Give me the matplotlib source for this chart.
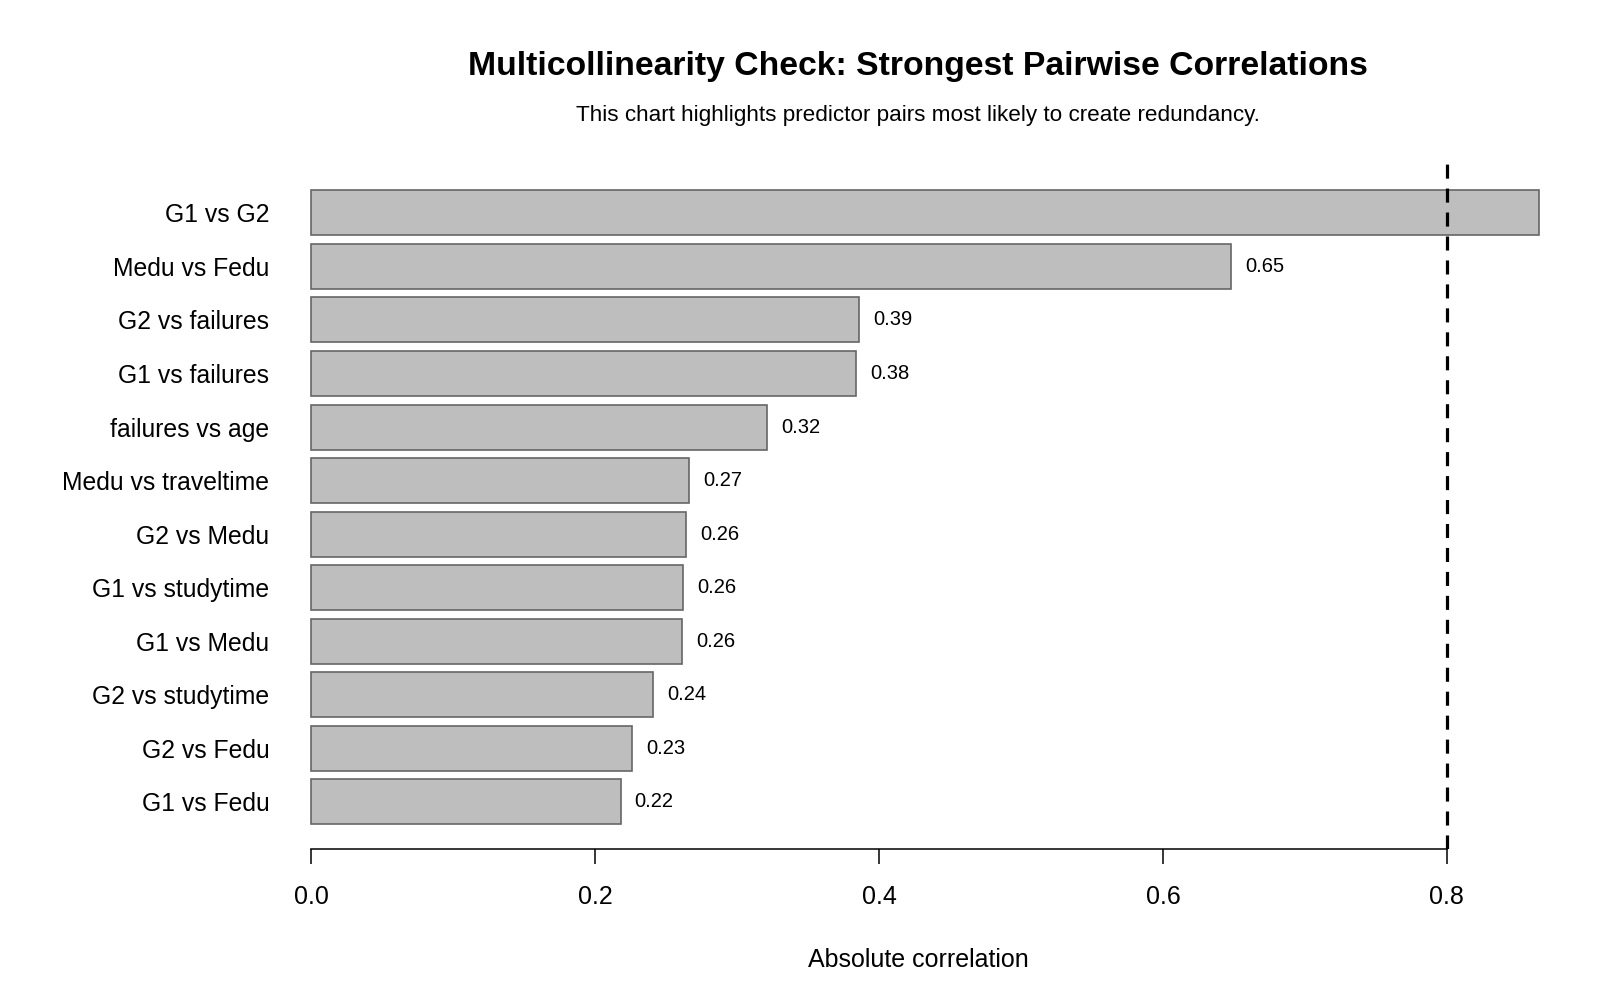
import matplotlib.pyplot as plt

plt.rcParams['font.family'] = ['Liberation Sans', 'DejaVu Sans']

pairs = ['G1 vs G2', 'Medu vs Fedu', 'G2 vs failures', 'G1 vs failures',
         'failures vs age', 'Medu vs traveltime', 'G2 vs Medu', 'G1 vs studytime',
         'G1 vs Medu', 'G2 vs studytime', 'G2 vs Fedu', 'G1 vs Fedu']
abs_corr = [0.865, 0.648, 0.386, 0.384, 0.321, 0.266, 0.264, 0.262, 0.261, 0.241, 0.226, 0.218]
threshold = 0.8

# bottom-up order like a horizontal barplot
pairs_r = pairs[::-1]
vals_r = abs_corr[::-1]
pos = list(range(len(pairs_r)))

fig = plt.figure(figsize=(16, 10), dpi=100)
ax = fig.add_axes([311 / 1600, 0.151, (1525 - 311) / 1600, 0.686])

ax.barh(pos, vals_r, height=0.84, color='#bebebe', edgecolor='#666666',
        linewidth=1.2, clip_on=False, zorder=2)

xmax = 0.855
for p, v in zip(pos, vals_r):
    if v + 0.01 < xmax:
        ax.text(v + 0.01, p, f'{v:.2f}', va='center', ha='left', fontsize=14.5)

ax.axvline(threshold, color='black', lw=2.3, dashes=(4.4, 3.1), zorder=3)

ax.set_xlim(0, xmax)
ax.set_ylim(-0.88, 11.93)
ax.set_yticks(pos)
ax.set_yticklabels(pairs_r, fontsize=17.8)
ax.tick_params(axis='y', length=0, pad=30)
ax.set_xticks([0.0, 0.2, 0.4, 0.6, 0.8])
ax.set_xticklabels(['0.0', '0.2', '0.4', '0.6', '0.8'], fontsize=18)
ax.tick_params(axis='x', length=11, width=1.1, pad=15)

for s in ['top', 'right', 'left']:
    ax.spines[s].set_visible(False)
ax.spines['bottom'].set_bounds(0, 0.8)
ax.spines['bottom'].set_linewidth(1.1)

ax.set_xlabel('Absolute correlation', fontsize=18, labelpad=28)

cx = (311 + 1525) / 2 / 1600
fig.text(cx, 1 - 67 / 1000, 'Multicollinearity Check: Strongest Pairwise Correlations',
         ha='center', va='center', fontsize=24.3, fontweight='bold')
fig.text(cx, 1 - 116 / 1000, 'This chart highlights predictor pairs most likely to create redundancy.',
         ha='center', va='center', fontsize=16.2)

fig.savefig('out.png', dpi=100)
